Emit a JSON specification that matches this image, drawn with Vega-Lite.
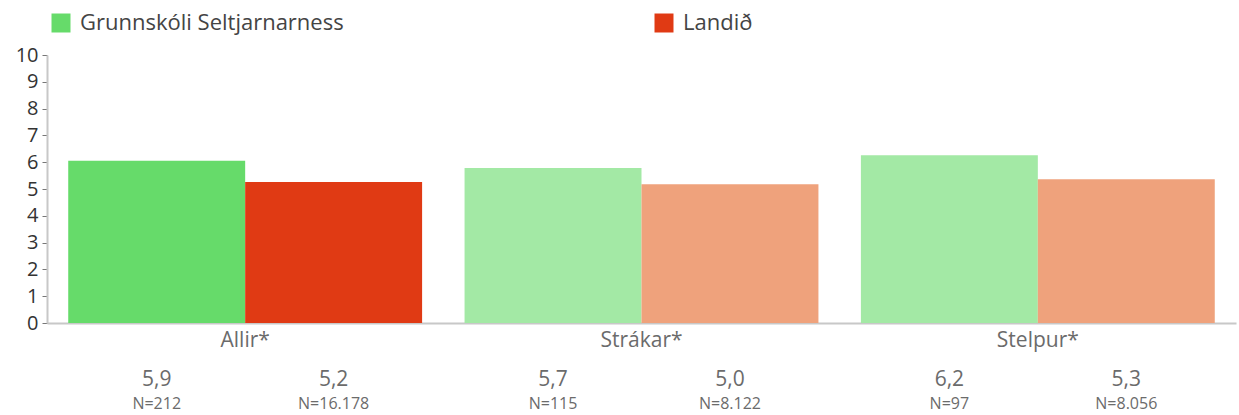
{
  "$schema": "https://vega.github.io/schema/vega-lite/v6.json",
  "width": 1189,
  "height": 268,
  "autosize": {"type": "none"},
  "padding": {"left": 47, "top": 55, "right": 3, "bottom": 92},
  "background": "white",
  "config": {"font": "Open Sans", "view": {"stroke": null}},
  "data": {
    "values": [
      {"group": "Allir*", "series": "Grunnskóli Seltjarnarness", "value": 6.05, "label": "5,9", "n": "N=212"},
      {"group": "Allir*", "series": "Landið", "value": 5.26, "label": "5,2", "n": "N=16.178"},
      {"group": "Strákar*", "series": "Grunnskóli Seltjarnarness", "value": 5.78, "label": "5,7", "n": "N=115"},
      {"group": "Strákar*", "series": "Landið", "value": 5.18, "label": "5,0", "n": "N=8.122"},
      {"group": "Stelpur*", "series": "Grunnskóli Seltjarnarness", "value": 6.26, "label": "6,2", "n": "N=97"},
      {"group": "Stelpur*", "series": "Landið", "value": 5.36, "label": "5,3", "n": "N=8.056"}
    ]
  },
  "encoding": {
    "x": {
      "field": "group", "type": "nominal",
      "sort": ["Allir*", "Strákar*", "Stelpur*"],
      "scale": {"paddingInner": 0, "paddingOuter": 0},
      "axis": {"title": null, "labelAngle": 0, "labelFontSize": 21, "labelColor": "#6b6b6b", "ticks": false, "domainColor": "#c8c8c8", "domainWidth": 2, "labelPadding": 6}
    },
    "xOffset": {
      "field": "series", "type": "nominal",
      "sort": ["Grunnskóli Seltjarnarness", "Landið"],
      "scale": {"paddingOuter": 0.12, "paddingInner": 0}
    }
  },
  "layer": [
    {
      "mark": {"type": "bar"},
      "encoding": {
        "y": {
          "field": "value", "type": "quantitative",
          "scale": {"domain": [0, 10]},
          "axis": {"title": null, "values": [0,1,2,3,4,5,6,7,8,9,10], "labelOverlap": false, "labelFontSize": 20, "labelColor": "#333333", "tickColor": "#777777", "tickSize": 5, "domainColor": "#c8c8c8", "domainWidth": 2, "grid": false, "labelPadding": 4}
        },
        "color": {
          "condition": [
            {"test": "datum.group !== 'Allir*' && datum.series === 'Landið'", "value": "#EFA27C"},
            {"test": "datum.group !== 'Allir*'", "value": "#A3E9A5"}
          ],
          "field": "series", "type": "nominal",
          "sort": ["Grunnskóli Seltjarnarness", "Landið"],
          "scale": {"domain": ["Grunnskóli Seltjarnarness", "Landið"], "range": ["#66DB6A", "#E03A14"]},
          "legend": {"orient": "none", "legendX": 3, "legendY": -43, "direction": "horizontal", "title": null, "symbolType": "square", "symbolSize": 361, "symbolStrokeWidth": 0, "labelFontSize": 22, "labelColor": "#444444", "labelLimit": 600, "columnPadding": 309, "labelOffset": 8}
        }
      }
    },
    {
      "mark": {"type": "text", "dy": 57, "fontSize": 21, "color": "#6b6b6b", "baseline": "middle"},
      "encoding": {
        "y": {"datum": 0, "type": "quantitative",
          "axis": {"title": null, "values": [0,1,2,3,4,5,6,7,8,9,10], "labelOverlap": false, "labelFontSize": 20, "labelColor": "#333333", "tickColor": "#777777", "tickSize": 5, "domainColor": "#c8c8c8", "domainWidth": 2, "grid": false, "labelPadding": 4}},
        "text": {"field": "label"}
      }
    },
    {
      "mark": {"type": "text", "dy": 81, "fontSize": 16, "color": "#6b6b6b", "baseline": "middle"},
      "encoding": {
        "y": {"datum": 0, "type": "quantitative",
          "axis": {"title": null, "values": [0,1,2,3,4,5,6,7,8,9,10], "labelOverlap": false, "labelFontSize": 20, "labelColor": "#333333", "tickColor": "#777777", "tickSize": 5, "domainColor": "#c8c8c8", "domainWidth": 2, "grid": false, "labelPadding": 4}},
        "text": {"field": "n"}
      }
    }
  ]
}
